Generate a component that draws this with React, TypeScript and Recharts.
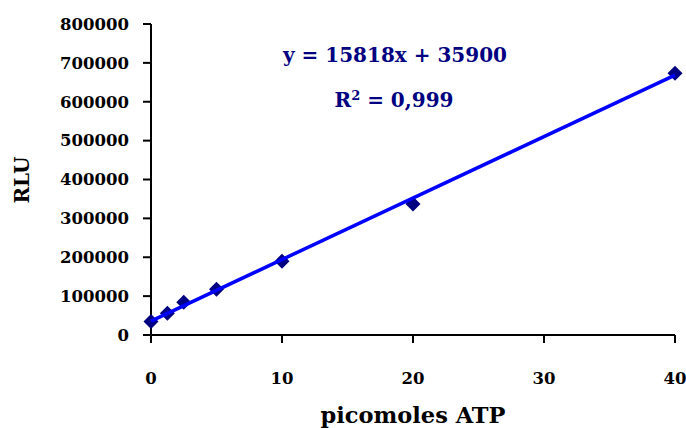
import React from 'react'
import { ComposedChart, Scatter, XAxis, YAxis } from 'recharts'

const atpPmol = [0, 1.25, 2.5, 5, 10, 20, 40]
const rluValues = [35000, 56000, 84000, 118000, 190000, 337000, 673000]
const trendX = [0, 40]
const trendY = [35900, 668620]
const xTicks = [0, 10, 20, 30, 40]
const yTicks = [0, 100000, 200000, 300000, 400000, 500000, 600000, 700000, 800000]

const points = atpPmol.map((x, i) => ({ x, y: rluValues[i] }))
const trend = trendX.map((x, i) => ({ x, y: trendY[i] }))

const serif = "'DejaVu Serif', serif"
const navy = '#000080'

const Diamond = (props: any) => {
  const { cx, cy } = props
  const r = 7.5
  return <polygon points={`${cx},${cy - r} ${cx + r},${cy} ${cx},${cy + r} ${cx - r},${cy}`} fill={navy} />
}

const RluLabel = () => (
  <text
    x={22} y={180} transform="rotate(-90 22 180)"
    textAnchor="middle" dominantBaseline="central"
    style={{ fontFamily: serif, fontWeight: 700, fontSize: 20, fill: '#000' }}
  >RLU</text>
)

export default function App() {
  const tickStyle = { fill: '#000', fontFamily: serif, fontWeight: 700, fontSize: 16.5 }
  return (
    <div style={{ position: 'absolute', left: 0, top: 0, width: 686, height: 428, background: '#fff' }}>
      <ComposedChart width={686} height={428} margin={{ top: 24, right: 11, bottom: 0, left: 0 }}>
        <XAxis
          type="number" dataKey="x" domain={[0, 40]} ticks={xTicks}
          height={93} tickSize={8} tickMargin={29}
          tick={tickStyle}
          axisLine={{ stroke: '#000', strokeWidth: 2 }}
          tickLine={{ stroke: '#000', strokeWidth: 2 }}
          label={{ value: 'picomoles ATP', position: 'insideBottom', offset: 5, style: { fill: '#000', fontFamily: serif, fontWeight: 700, fontSize: 22.5 } }}
        />
        <YAxis
          type="number" dataKey="y" domain={[0, 800000]} ticks={yTicks}
          width={151} tickSize={8} tickMargin={14}
          tick={tickStyle}
          axisLine={{ stroke: '#000', strokeWidth: 2 }}
          tickLine={{ stroke: '#000', strokeWidth: 2 }}
          label={<RluLabel />}
        />
        <Scatter data={points} shape={<Diamond />} isAnimationActive={false} />
        <Scatter
          data={trend} line={{ stroke: '#0000ff', strokeWidth: 3.5 }}
          shape={() => null} isAnimationActive={false}
        />
      </ComposedChart>
      <div style={{
        position: 'absolute', left: 245, top: 43, width: 300, textAlign: 'center',
        fontFamily: serif, fontWeight: 700, fontSize: 20, color: navy, lineHeight: '24px',
      }}>y = 15818x + 35900</div>
      <div style={{
        position: 'absolute', left: 244, top: 88, width: 300, textAlign: 'center',
        fontFamily: serif, fontWeight: 700, fontSize: 20, color: navy, lineHeight: '24px',
      }}>R<sup style={{ fontSize: 13, verticalAlign: 'top', position: 'relative', top: -4 }}>2</sup> = 0,999</div>
    </div>
  )
}
